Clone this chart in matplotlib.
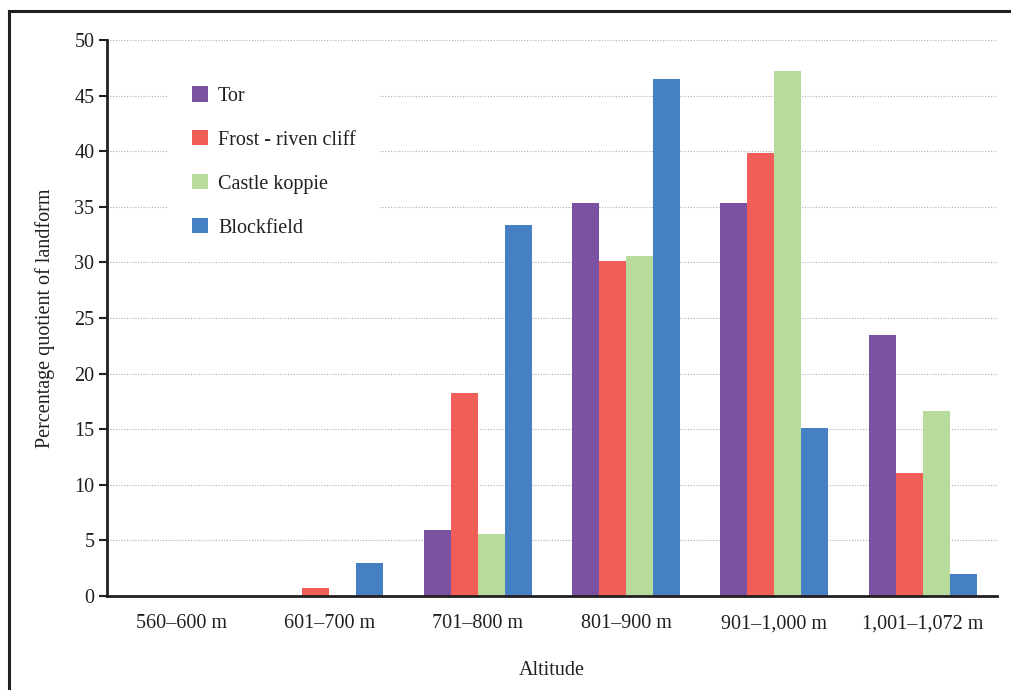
import matplotlib.pyplot as plt
from matplotlib.lines import Line2D
import numpy as np

# altitude bands and landform shares (%)
altitudes = ['560–600 m', '601–700 m', '701–800 m', '801–900 m', '901–1,000 m', '1,001–1,072 m']
tor = [0, 0, 5.9, 35.3, 35.3, 23.5]
frost = [0, 0.7, 18.3, 30.1, 39.8, 11.1]
castle = [0, 0, 5.6, 30.6, 47.2, 16.6]
blockfield = [0, 3.0, 33.4, 46.5, 15.1, 2.0]

labels = ['Tor', 'Frost - riven cliff', 'Castle koppie', 'Blockfield']
colors = ['#7b52a1', '#f05e57', '#b7db9a', '#4580c2']

plt.rcParams['font.family'] = ['Liberation Serif', 'DejaVu Serif']
plt.rcParams['font.size'] = 14.5

fig = plt.figure(figsize=(10.11, 6.9), dpi=100)
ax = fig.add_axes([0.1058, 0.1362, 0.8803, 0.8058])

x = np.arange(len(altitudes))
w = 0.182
for i, vals in enumerate([tor, frost, castle, blockfield]):
    ax.bar(x + (i - 1.5) * w, vals, w, color=colors[i], label=labels[i], zorder=3)

ax.set_xlim(-0.5, 5.5)
ax.set_ylim(0, 50)
ax.set_yticks(range(0, 51, 5))
ax.set_xticks(x)
ax.set_xticklabels(altitudes, color='#231f20')
ax.tick_params(axis='x', length=0, pad=13)
ax.tick_params(axis='y', length=6, width=1.5, pad=3, colors='#231f20')
ax.yaxis.grid(True, linestyle=(0, (1, 1.5)), color='#b0b0b0', linewidth=0.8, zorder=0)
ax.set_axisbelow(True)

for s in ['top', 'right']:
    ax.spines[s].set_visible(False)
for s in ['left', 'bottom']:
    ax.spines[s].set_linewidth(2)
    ax.spines[s].set_color('#231f20')
    ax.spines[s].set_zorder(4)

ax.set_xlabel('Altitude', labelpad=20, color='#231f20')
ax.set_ylabel('Percentage quotient of landform', labelpad=14, color='#231f20')

leg = ax.legend(loc='upper left', bbox_to_anchor=(0.0683, 0.9604), frameon=True,
                fancybox=False, framealpha=1, edgecolor='none', facecolor='white',
                handlelength=0.8, handleheight=0.8, handletextpad=0.5,
                labelspacing=1.2, borderpad=1.2, borderaxespad=0)
for t in leg.get_texts():
    t.set_color('#231f20')

# border lines around the figure (left and top)
fig.add_artist(Line2D([0.009, 0.009], [0, 0.984], color='#231f20', lw=2.2))
fig.add_artist(Line2D([0.009, 1.0], [0.984, 0.984], color='#231f20', lw=2.2))

fig.savefig('out.png', dpi=100)
